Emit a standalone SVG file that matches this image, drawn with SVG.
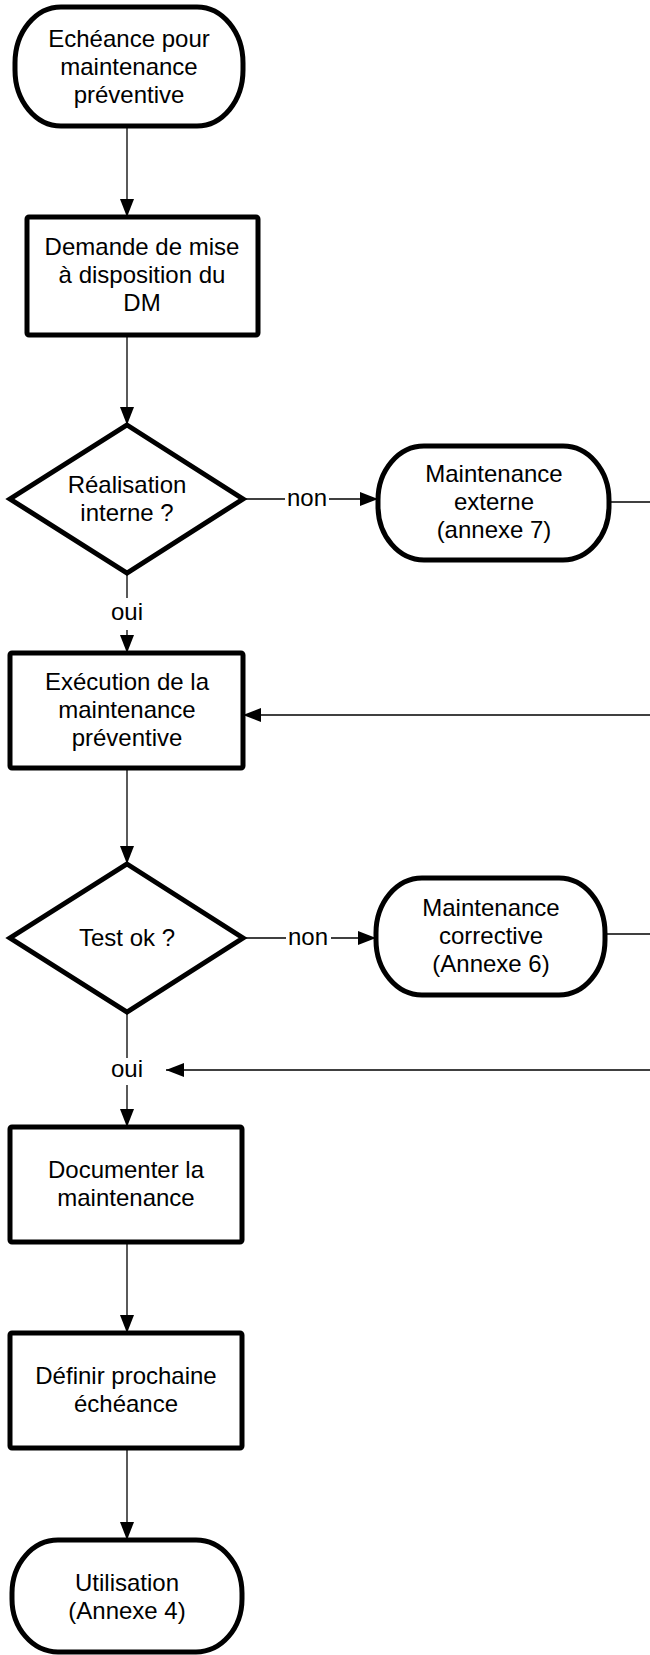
<svg xmlns="http://www.w3.org/2000/svg" width="650" height="1655" viewBox="0 0 650 1655">
  <style>
    .node { fill: #ffffff; stroke: #000000; stroke-width: 5; }
    .box { stroke-linejoin: round; }
    .dec { stroke-linejoin: miter; }
    .edge { fill: none; stroke: #000000; stroke-width: 1.3; }
    text { font-family: "Liberation Sans", Arial, sans-serif; font-size: 24px; fill: #000000; text-anchor: middle; }
  </style>
  <defs>
    <marker id="arrow" viewBox="0 0 18 14" refX="18" refY="7" markerWidth="18" markerHeight="14" markerUnits="userSpaceOnUse" orient="auto">
      <path d="M0,0 L18,7 L0,14 Z" fill="#000000"/>
    </marker>
  </defs>

  <rect width="650" height="1655" fill="#ffffff"/>

  <!-- connectors -->
  <g id="connectors">
    <path class="edge" d="M127,126 V217" marker-end="url(#arrow)"/>
    <path class="edge" d="M127,335 V425" marker-end="url(#arrow)"/>
    <path class="edge" d="M243,499 H285"/>
    <path class="edge" d="M329,499 H378" marker-end="url(#arrow)"/>
    <text x="307" y="506">non</text>
    <path class="edge" d="M609,502 H650"/>
    <path class="edge" d="M650,715 H243" marker-end="url(#arrow)"/>
    <path class="edge" d="M127,573 V598"/>
    <path class="edge" d="M127,630 V653" marker-end="url(#arrow)"/>
    <text x="127" y="620">oui</text>
    <path class="edge" d="M127,768 V864" marker-end="url(#arrow)"/>
    <path class="edge" d="M243,938 H286"/>
    <path class="edge" d="M331,938 H376" marker-end="url(#arrow)"/>
    <text x="308" y="945">non</text>
    <path class="edge" d="M605,934 H650"/>
    <path class="edge" d="M650,1070 H166" marker-end="url(#arrow)"/>
    <path class="edge" d="M127,1012 V1058"/>
    <path class="edge" d="M127,1085 V1127" marker-end="url(#arrow)"/>
    <text x="127" y="1077">oui</text>
    <path class="edge" d="M127,1242 V1333" marker-end="url(#arrow)"/>
    <path class="edge" d="M127,1448 V1540" marker-end="url(#arrow)"/>
  </g>

  <!-- start: preventive maintenance due -->
  <g id="start">
    <rect class="node" x="15" y="7" width="228" height="119" rx="46" ry="56"/>
    <text x="129" y="47">Echéance pour</text>
    <text x="129" y="75">maintenance</text>
    <text x="129" y="103">préventive</text>
  </g>

  <g id="request">
    <rect class="node box" x="27" y="217" width="231" height="118" rx="2"/>
    <text x="142" y="255">Demande de mise</text>
    <text x="142" y="283">à disposition du</text>
    <text x="142" y="311">DM</text>
  </g>

  <g id="internal">
    <polygon class="node dec" points="127,425 243,499 127,573 10,499"/>
    <text x="127" y="493">Réalisation</text>
    <text x="127" y="521">interne ?</text>
  </g>

  <g id="external">
    <rect class="node" x="378" y="446" width="231" height="114" rx="46" ry="54"/>
    <text x="494" y="482">Maintenance</text>
    <text x="494" y="510">externe</text>
    <text x="494" y="538">(annexe 7)</text>
  </g>

  <g id="execute">
    <rect class="node box" x="10" y="653" width="233" height="115" rx="2"/>
    <text x="127" y="690">Exécution de la</text>
    <text x="127" y="718">maintenance</text>
    <text x="127" y="746">préventive</text>
  </g>

  <g id="test">
    <polygon class="node dec" points="127,864 243,938 127,1012 10,938"/>
    <text x="127" y="946">Test ok ?</text>
  </g>

  <g id="corrective">
    <rect class="node" x="376" y="878" width="229" height="117" rx="46" ry="55"/>
    <text x="491" y="916">Maintenance</text>
    <text x="491" y="944">corrective</text>
    <text x="491" y="972">(Annexe 6)</text>
  </g>

  <g id="document">
    <rect class="node box" x="10" y="1127" width="232" height="115" rx="2"/>
    <text x="126" y="1178">Documenter la</text>
    <text x="126" y="1206">maintenance</text>
  </g>

  <g id="next-due">
    <rect class="node box" x="10" y="1333" width="232" height="115" rx="2"/>
    <text x="126" y="1384">Définir prochaine</text>
    <text x="126" y="1412">échéance</text>
  </g>

  <g id="use">
    <rect class="node" x="12" y="1540" width="230" height="112" rx="46" ry="53"/>
    <text x="127" y="1591">Utilisation</text>
    <text x="127" y="1619">(Annexe 4)</text>
  </g>
</svg>
